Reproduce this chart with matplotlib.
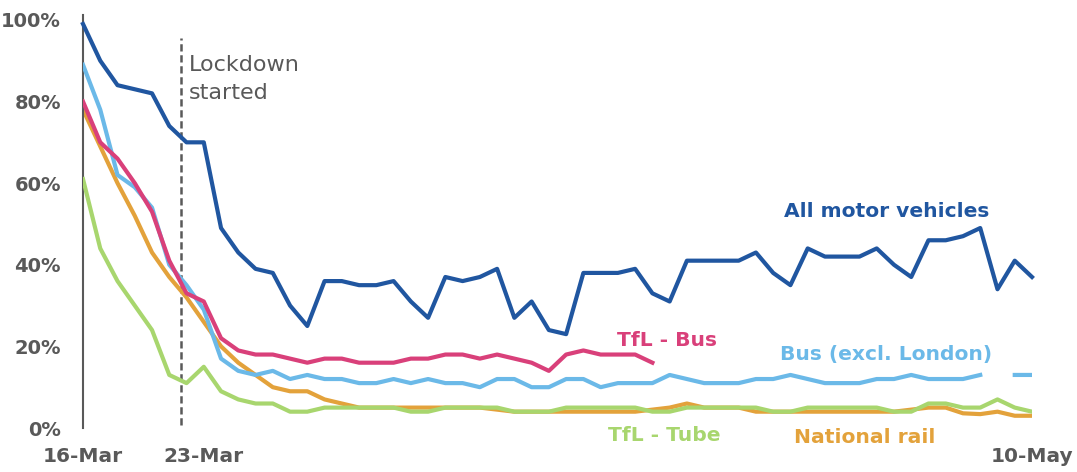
# ==========================================================================================
# preamble
# ==========================================================================================
import numpy as np
import matplotlib as mpl
import matplotlib.pyplot as plt

mpl.rc("figure", dpi=100)
plt.rcParams.update({
    'font.family': 'DejaVu Sans',
    'font.weight': 'bold',
})

# ==========================================================================================
# data: use as % of an equivalent day, one value per day
# ==========================================================================================
days = np.arange(56)  # 16-Mar ... 10-May
tick_days = [0, 7, 55]
tick_labels = ["16-Mar", "23-Mar", "10-May"]
y_ticks = [0, 20, 40, 60, 80, 100]
lockdown_day = 5.68

motor = [99, 90, 84, 83, 82, 74, 70, 70, 49, 43,
         39, 38, 30, 25, 36, 36, 35, 35, 36, 31,
         27, 37, 36, 37, 39, 27, 31, 24, 23, 38,
         38, 38, 39, 33, 31, 41, 41, 41, 41, 43,
         38, 35, 44, 42, 42, 42, 44, 40, 37, 46,
         46, 47, 49, 34, 41, 37]
bus_excl_london = [89, 78, 62, 59, 54, 40, 35, 29, 17, 14,
                   13, 14, 12, 13, 12, 12, 11, 11, 12, 11,
                   12, 11, 11, 10, 12, 12, 10, 10, 12, 12,
                   10, 11, 11, 11, 13, 12, 11, 11, 11, 12,
                   12, 13, 12, 11, 11, 11, 12, 12, 13, 12,
                   12, 12, 13, np.nan, 13, 13]
national_rail = [78, 69, 60, 52, 43, 37, 32, 26, 20, 16,
                 13, 10, 9, 9, 7, 6, 5, 5, 5, 5,
                 5, 5, 5, 5, 4.5, 4, 4, 4, 4, 4,
                 4, 4, 4, 4.5, 5, 6, 5, 5, 5, 4,
                 4, 4, 4, 4, 4, 4, 4, 4, 4.5, 5,
                 5, 3.6, 3.4, 4, 3, 3]
tfl_tube = [61, 44, 36, 30, 24, 13, 11, 15, 9, 7,
            6, 6, 4, 4, 5, 5, 5, 5, 5, 4,
            4, 5, 5, 5, 5, 4, 4, 4, 5, 5,
            5, 5, 5, 4, 4, 5, 5, 5, 5, 5,
            4, 4, 5, 5, 5, 5, 5, 4, 4, 6,
            6, 5, 5, 7, 5, 4]
tfl_bus = [80, 70, 66, 60, 53, 41, 33, 31, 22, 19,
           18, 18, 17, 16, 17, 17, 16, 16, 16, 17,
           17, 18, 18, 17, 18, 17, 16, 14, 18, 19,
           18, 18, 18, 16]

# colours
grey = '#595959'
c_motor = '#2056a0'
c_bus = '#6bb9e8'
c_rail = '#e3a23b'
c_tube = '#a8d66e'
c_tflbus = '#d9407a'

# ==========================================================================================
# plotting
# ==========================================================================================
fig = plt.figure(figsize=(10.77, 4.72))
ax = fig.add_axes([83/1077, 44/472, 949/1077, 413/472])

lw = 3.0
ax.plot([lockdown_day, lockdown_day], [0.7, 95.6], color=grey, lw=1.8,
        linestyle=(0, (2.9, 1.5)), zorder=1)
ax.plot(days, national_rail, color=c_rail, lw=lw, zorder=2)
ax.plot(days, tfl_tube, color=c_tube, lw=lw, zorder=3)
ax.plot(days, bus_excl_london, color=c_bus, lw=lw, zorder=4)
ax.plot(days[:len(tfl_bus)], tfl_bus, color=c_tflbus, lw=lw, zorder=5)
ax.plot(days, motor, color=c_motor, lw=lw, zorder=6, clip_on=False)

ax.set_xlim(0, 55)
ax.set_ylim(0, 101.2)

for s in ['top', 'right', 'bottom']:
    ax.spines[s].set_visible(False)
ax.spines['left'].set_color(grey)
ax.spines['left'].set_linewidth(1.5)

ax.set_yticks(y_ticks)
ax.set_yticklabels([f"{t}%" for t in y_ticks])
ax.set_xticks(tick_days)
ax.set_xticklabels(tick_labels)
ax.tick_params(axis='y', length=0, pad=16, labelsize=14.0, labelcolor=grey)
ax.tick_params(axis='x', length=0, pad=14, labelsize=14.5, labelcolor=grey)

# annotations
ax.text(6.14, 87.6, "Lockdown", color=grey, fontsize=16, fontweight='normal', va='baseline')
ax.text(6.14, 80.6, "started", color=grey, fontsize=16, fontweight='normal', va='baseline')

lab = dict(fontsize=14.6, fontweight='bold', ha='center', va='baseline')
ax.text(46.55, 51.8, "All motor vehicles", color=c_motor, **lab)
ax.text(33.83, 20.1, "TfL - Bus", color=c_tflbus, **lab)
ax.text(46.52, 16.7, "Bus (excl. London)", color=c_bus, **lab)
ax.text(33.7, -3.2, "TfL - Tube", color=c_tube, **lab)
ax.text(45.3, -3.7, "National rail", color=c_rail, **lab)

plt.savefig("out.png", format="png")
plt.close()
